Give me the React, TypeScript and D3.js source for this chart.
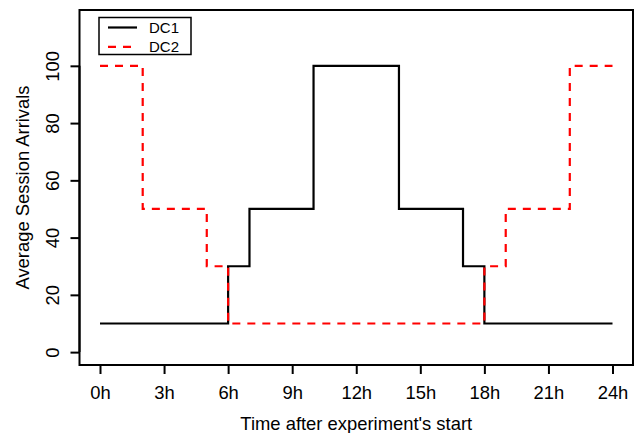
import { useRef, useEffect } from 'react';
import * as d3 from 'd3';

// [hour, arrivals] at each step change, plus the end point
const dc1Steps = [
  [0, 10],
  [6, 30],
  [7, 50],
  [10, 100],
  [14, 50],
  [17, 30],
  [18, 10],
  [24, 10],
];
const dc2Steps = [
  [0, 100],
  [2, 50],
  [5, 30],
  [6, 10],
  [18, 30],
  [19, 50],
  [22, 100],
  [24, 100],
];
const xTicks = [0, 3, 6, 9, 12, 15, 18, 21, 24];
const yTicks = [0, 20, 40, 60, 80, 100];
const seriesNames = ['DC1', 'DC2'];

export default function App() {
  const svgRef = useRef<SVGSVGElement>(null);

  useEffect(() => {
    const svgWidth = 643;
    const svgHeight = 433;
    const box = { left: 79.5, right: 633, top: 10, bottom: 365 };
    const font = '"Liberation Sans", Arial, Helvetica, sans-serif';
    const fontSize = 18.4;

    const svg = d3.select(svgRef.current).attr('width', svgWidth).attr('height', svgHeight);
    svg.selectAll('*').remove();

    // R-style usr range: data range extended by 4%
    const xScale = d3.scaleLinear().domain([-0.96, 24.96]).range([box.left, box.right]);
    const yScale = d3.scaleLinear().domain([-4.5, 119.5]).range([box.bottom, box.top]);

    const line = d3
      .line<number[]>()
      .x((d) => xScale(d[0]))
      .y((d) => yScale(d[1]))
      .curve(d3.curveStepAfter);

    svg
      .append('path')
      .attr('d', line(dc1Steps))
      .attr('fill', 'none')
      .attr('stroke', '#000')
      .attr('stroke-width', 2.2);

    svg
      .append('path')
      .attr('d', line(dc2Steps))
      .attr('fill', 'none')
      .attr('stroke', '#ff0000')
      .attr('stroke-width', 2.2)
      .attr('stroke-dasharray', '8,7');

    // plot frame
    svg
      .append('rect')
      .attr('x', box.left)
      .attr('y', box.top)
      .attr('width', box.right - box.left)
      .attr('height', box.bottom - box.top)
      .attr('fill', 'none')
      .attr('stroke', '#000')
      .attr('stroke-width', 2);

    const xAxis = d3
      .axisBottom(xScale)
      .tickValues(xTicks)
      .tickSize(9)
      .tickPadding(12)
      .tickSizeOuter(0)
      .tickFormat((d) => `${d}h`);
    const xAxisDraw = svg.append('g').attr('transform', `translate(0, ${box.bottom})`).call(xAxis);
    xAxisDraw.select('.domain').attr('d', `M${xScale(0)},0H${xScale(24)}`).attr('stroke-width', 2);
    xAxisDraw.selectAll('.tick line').attr('stroke-width', 2);
    xAxisDraw
      .selectAll('.tick text')
      .attr('font-family', font)
      .attr('font-size', fontSize)
      .attr('fill', '#000');

    const yAxis = d3.axisLeft(yScale).tickValues(yTicks).tickSize(9).tickSizeOuter(0);
    const yAxisDraw = svg.append('g').attr('transform', `translate(${box.left}, 0)`).call(yAxis);
    yAxisDraw.select('.domain').attr('d', `M0,${yScale(0)}V${yScale(100)}`).attr('stroke-width', 2);
    yAxisDraw.selectAll('.tick line').attr('stroke-width', 2);
    yAxisDraw
      .selectAll('.tick text')
      .attr('x', null)
      .attr('text-anchor', 'middle')
      .attr('transform', 'translate(-27, 0) rotate(-90)')
      .attr('dy', '0.36em')
      .attr('font-family', font)
      .attr('font-size', fontSize)
      .attr('fill', '#000');

    svg
      .append('text')
      .attr('x', (box.left + box.right) / 2)
      .attr('y', 430)
      .attr('text-anchor', 'middle')
      .attr('font-family', font)
      .attr('font-size', fontSize)
      .text("Time after experiment's start");

    svg
      .append('text')
      .attr('transform', `translate(29, ${(box.top + box.bottom) / 2}) rotate(-90)`)
      .attr('text-anchor', 'middle')
      .attr('font-family', font)
      .attr('font-size', fontSize)
      .text('Average Session Arrivals');

    // legend
    const legend = svg.append('g').attr('transform', 'translate(99, 17.5)');
    legend
      .append('rect')
      .attr('width', 92)
      .attr('height', 37)
      .attr('fill', '#fff')
      .attr('stroke', '#000')
      .attr('stroke-width', 1.5);
    seriesNames.forEach((name, i) => {
      const y = 10 + i * 19.3;
      legend
        .append('line')
        .attr('x1', 9)
        .attr('x2', 38)
        .attr('y1', y)
        .attr('y2', y)
        .attr('stroke', i === 0 ? '#000' : '#ff0000')
        .attr('stroke-width', 2.2)
        .attr('stroke-dasharray', i === 0 ? null : '8,7');
      legend
        .append('text')
        .attr('x', 50)
        .attr('y', y)
        .attr('dy', '0.36em')
        .attr('font-family', font)
        .attr('font-size', 15)
        .text(name);
    });
  }, []);

  return (
    <div>
      <svg ref={svgRef} style={{ display: 'block', position: 'absolute', left: 0, top: 0 }} />
    </div>
  );
}
